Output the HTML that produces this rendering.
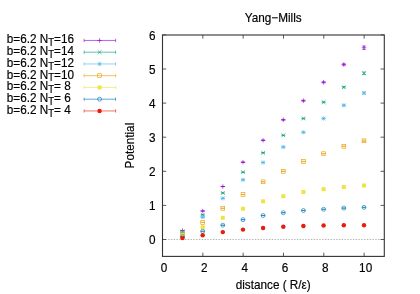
<!DOCTYPE html>
<html><head><meta charset="utf-8"><title>Yang-Mills</title>
<style>html,body{margin:0;padding:0;background:#fff;font-family:"Liberation Sans",sans-serif;}body{width:420px;height:294px;position:relative;overflow:hidden}</style>
</head><body>
<svg width="420" height="294" viewBox="0 0 420 294" style="position:absolute;left:0;top:0"><rect width="420" height="294" fill="#fff"/><path d="M162.5 239.5H384.3" stroke="#a0a0a0" stroke-width="0.8" stroke-dasharray="1.4 1.4" fill="none"/><path d="M162.5 239.50h3.7M384.3 239.50h-3.7M162.5 205.40h3.7M384.3 205.40h-3.7M162.5 171.30h3.7M384.3 171.30h-3.7M162.5 137.20h3.7M384.3 137.20h-3.7M162.5 103.10h3.7M384.3 103.10h-3.7M162.5 69.00h3.7M384.3 69.00h-3.7M162.5 34.90h3.7M384.3 34.90h-3.7M162.50 256.4v-3.7M162.50 35.0v3.7M202.83 256.4v-3.7M202.83 35.0v3.7M243.15 256.4v-3.7M243.15 35.0v3.7M283.48 256.4v-3.7M283.48 35.0v3.7M323.81 256.4v-3.7M323.81 35.0v3.7M364.14 256.4v-3.7M364.14 35.0v3.7" stroke="#333" stroke-width="0.8" fill="none"/><rect x="162.5" y="35.0" width="221.8" height="221.39999999999998" stroke="#333" stroke-width="1.1" fill="none"/><path d="M182.50 230.50V230.70M180.60 230.50H184.40M180.60 230.70H184.40" stroke="#9400d3" stroke-width="0.62" fill="none"/><path d="M180.25 230.60H184.75M182.50 228.35V232.85" stroke="#9400d3" stroke-width="0.62" fill="none"/><path d="M202.70 210.90V211.10M200.80 210.90H204.60M200.80 211.10H204.60" stroke="#9400d3" stroke-width="0.62" fill="none"/><path d="M200.45 211.00H204.95M202.70 208.75V213.25" stroke="#9400d3" stroke-width="0.62" fill="none"/><path d="M222.80 186.35V186.65M220.90 186.35H224.70M220.90 186.65H224.70" stroke="#9400d3" stroke-width="0.62" fill="none"/><path d="M220.55 186.50H225.05M222.80 184.25V188.75" stroke="#9400d3" stroke-width="0.62" fill="none"/><path d="M243.00 162.00V162.40M241.10 162.00H244.90M241.10 162.40H244.90" stroke="#9400d3" stroke-width="0.62" fill="none"/><path d="M240.75 162.20H245.25M243.00 159.95V164.45" stroke="#9400d3" stroke-width="0.62" fill="none"/><path d="M263.10 140.00V140.60M261.20 140.00H265.00M261.20 140.60H265.00" stroke="#9400d3" stroke-width="0.62" fill="none"/><path d="M260.85 140.30H265.35M263.10 138.05V142.55" stroke="#9400d3" stroke-width="0.62" fill="none"/><path d="M283.30 119.40V120.20M281.40 119.40H285.20M281.40 120.20H285.20" stroke="#9400d3" stroke-width="0.62" fill="none"/><path d="M281.05 119.80H285.55M283.30 117.55V122.05" stroke="#9400d3" stroke-width="0.62" fill="none"/><path d="M303.40 100.20V101.20M301.50 100.20H305.30M301.50 101.20H305.30" stroke="#9400d3" stroke-width="0.62" fill="none"/><path d="M301.15 100.70H305.65M303.40 98.45V102.95" stroke="#9400d3" stroke-width="0.62" fill="none"/><path d="M323.60 81.70V82.90M321.70 81.70H325.50M321.70 82.90H325.50" stroke="#9400d3" stroke-width="0.62" fill="none"/><path d="M321.35 82.30H325.85M323.60 80.05V84.55" stroke="#9400d3" stroke-width="0.62" fill="none"/><path d="M343.80 63.70V65.30M341.90 63.70H345.70M341.90 65.30H345.70" stroke="#9400d3" stroke-width="0.62" fill="none"/><path d="M341.55 64.50H346.05M343.80 62.25V66.75" stroke="#9400d3" stroke-width="0.62" fill="none"/><path d="M364.00 46.00V49.40M362.10 46.00H365.90M362.10 49.40H365.90" stroke="#9400d3" stroke-width="0.62" fill="none"/><path d="M361.75 47.70H366.25M364.00 45.45V49.95" stroke="#9400d3" stroke-width="0.62" fill="none"/><path d="M182.50 231.42V231.58M180.60 231.42H184.40M180.60 231.58H184.40" stroke="#009e73" stroke-width="0.62" fill="none"/><path d="M180.60 229.60L184.40 233.40M180.60 233.40L184.40 229.60" stroke="#009e73" stroke-width="0.62" fill="none"/><path d="M202.70 214.72V214.88M200.80 214.72H204.60M200.80 214.88H204.60" stroke="#009e73" stroke-width="0.62" fill="none"/><path d="M200.80 212.90L204.60 216.70M200.80 216.70L204.60 212.90" stroke="#009e73" stroke-width="0.62" fill="none"/><path d="M222.80 192.89V193.11M220.90 192.89H224.70M220.90 193.11H224.70" stroke="#009e73" stroke-width="0.62" fill="none"/><path d="M220.90 191.10L224.70 194.90M220.90 194.90L224.70 191.10" stroke="#009e73" stroke-width="0.62" fill="none"/><path d="M243.00 172.05V172.35M241.10 172.05H244.90M241.10 172.35H244.90" stroke="#009e73" stroke-width="0.62" fill="none"/><path d="M241.10 170.30L244.90 174.10M241.10 174.10L244.90 170.30" stroke="#009e73" stroke-width="0.62" fill="none"/><path d="M263.10 152.57V153.03M261.20 152.57H265.00M261.20 153.03H265.00" stroke="#009e73" stroke-width="0.62" fill="none"/><path d="M261.20 150.90L265.00 154.70M261.20 154.70L265.00 150.90" stroke="#009e73" stroke-width="0.62" fill="none"/><path d="M283.30 134.99V135.61M281.40 134.99H285.20M281.40 135.61H285.20" stroke="#009e73" stroke-width="0.62" fill="none"/><path d="M281.40 133.40L285.20 137.20M281.40 137.20L285.20 133.40" stroke="#009e73" stroke-width="0.62" fill="none"/><path d="M303.40 118.12V118.88M301.50 118.12H305.30M301.50 118.88H305.30" stroke="#009e73" stroke-width="0.62" fill="none"/><path d="M301.50 116.60L305.30 120.40M301.50 120.40L305.30 116.60" stroke="#009e73" stroke-width="0.62" fill="none"/><path d="M323.60 101.74V102.66M321.70 101.74H325.50M321.70 102.66H325.50" stroke="#009e73" stroke-width="0.62" fill="none"/><path d="M321.70 100.30L325.50 104.10M321.70 104.10L325.50 100.30" stroke="#009e73" stroke-width="0.62" fill="none"/><path d="M343.80 86.59V87.81M341.90 86.59H345.70M341.90 87.81H345.70" stroke="#009e73" stroke-width="0.62" fill="none"/><path d="M341.90 85.30L345.70 89.10M341.90 89.10L345.70 85.30" stroke="#009e73" stroke-width="0.62" fill="none"/><path d="M364.00 72.00V74.60M362.10 72.00H365.90M362.10 74.60H365.90" stroke="#009e73" stroke-width="0.62" fill="none"/><path d="M362.10 71.40L365.90 75.20M362.10 75.20L365.90 71.40" stroke="#009e73" stroke-width="0.62" fill="none"/><path d="M182.50 232.44V232.56M180.60 232.44H184.40M180.60 232.56H184.40" stroke="#56b4e9" stroke-width="0.62" fill="none"/><path d="M180.60 230.60L184.40 234.40M180.60 234.40L184.40 230.60M180.40 232.50H184.60M182.50 230.40V234.60" stroke="#56b4e9" stroke-width="0.62" fill="none"/><path d="M202.70 217.14V217.26M200.80 217.14H204.60M200.80 217.26H204.60" stroke="#56b4e9" stroke-width="0.62" fill="none"/><path d="M200.80 215.30L204.60 219.10M200.80 219.10L204.60 215.30M200.60 217.20H204.80M202.70 215.10V219.30" stroke="#56b4e9" stroke-width="0.62" fill="none"/><path d="M222.80 198.22V198.38M220.90 198.22H224.70M220.90 198.38H224.70" stroke="#56b4e9" stroke-width="0.62" fill="none"/><path d="M220.90 196.40L224.70 200.20M220.90 200.20L224.70 196.40M220.70 198.30H224.90M222.80 196.20V200.40" stroke="#56b4e9" stroke-width="0.62" fill="none"/><path d="M243.00 179.69V179.91M241.10 179.69H244.90M241.10 179.91H244.90" stroke="#56b4e9" stroke-width="0.62" fill="none"/><path d="M241.10 177.90L244.90 181.70M241.10 181.70L244.90 177.90M240.90 179.80H245.10M243.00 177.70V181.90" stroke="#56b4e9" stroke-width="0.62" fill="none"/><path d="M263.10 162.33V162.67M261.20 162.33H265.00M261.20 162.67H265.00" stroke="#56b4e9" stroke-width="0.62" fill="none"/><path d="M261.20 160.60L265.00 164.40M261.20 164.40L265.00 160.60M261.00 162.50H265.20M263.10 160.40V164.60" stroke="#56b4e9" stroke-width="0.62" fill="none"/><path d="M283.30 146.78V147.22M281.40 146.78H285.20M281.40 147.22H285.20" stroke="#56b4e9" stroke-width="0.62" fill="none"/><path d="M281.40 145.10L285.20 148.90M281.40 148.90L285.20 145.10M281.20 147.00H285.40M283.30 144.90V149.10" stroke="#56b4e9" stroke-width="0.62" fill="none"/><path d="M303.40 132.02V132.58M301.50 132.02H305.30M301.50 132.58H305.30" stroke="#56b4e9" stroke-width="0.62" fill="none"/><path d="M301.50 130.40L305.30 134.20M301.50 134.20L305.30 130.40M301.30 132.30H305.50M303.40 130.20V134.40" stroke="#56b4e9" stroke-width="0.62" fill="none"/><path d="M323.60 118.16V118.84M321.70 118.16H325.50M321.70 118.84H325.50" stroke="#56b4e9" stroke-width="0.62" fill="none"/><path d="M321.70 116.60L325.50 120.40M321.70 120.40L325.50 116.60M321.50 118.50H325.70M323.60 116.40V120.60" stroke="#56b4e9" stroke-width="0.62" fill="none"/><path d="M343.80 104.85V105.75M341.90 104.85H345.70M341.90 105.75H345.70" stroke="#56b4e9" stroke-width="0.62" fill="none"/><path d="M341.90 103.40L345.70 107.20M341.90 107.20L345.70 103.40M341.70 105.30H345.90M343.80 103.20V107.40" stroke="#56b4e9" stroke-width="0.62" fill="none"/><path d="M364.00 92.04V93.96M362.10 92.04H365.90M362.10 93.96H365.90" stroke="#56b4e9" stroke-width="0.62" fill="none"/><path d="M362.10 91.10L365.90 94.90M362.10 94.90L365.90 91.10M361.90 93.00H366.10M364.00 90.90V95.10" stroke="#56b4e9" stroke-width="0.62" fill="none"/><path d="M182.50 233.76V233.84M180.60 233.76H184.40M180.60 233.84H184.40" stroke="#e69f00" stroke-width="0.62" fill="none"/><rect x="180.60" y="231.90" width="3.8" height="3.8" stroke="#e69f00" stroke-width="0.62" fill="none"/><path d="M202.70 222.36V222.44M200.80 222.36H204.60M200.80 222.44H204.60" stroke="#e69f00" stroke-width="0.62" fill="none"/><rect x="200.80" y="220.50" width="3.8" height="3.8" stroke="#e69f00" stroke-width="0.62" fill="none"/><path d="M222.80 208.24V208.36M220.90 208.24H224.70M220.90 208.36H224.70" stroke="#e69f00" stroke-width="0.62" fill="none"/><rect x="220.90" y="206.40" width="3.8" height="3.8" stroke="#e69f00" stroke-width="0.62" fill="none"/><path d="M243.00 194.42V194.58M241.10 194.42H244.90M241.10 194.58H244.90" stroke="#e69f00" stroke-width="0.62" fill="none"/><rect x="241.10" y="192.60" width="3.8" height="3.8" stroke="#e69f00" stroke-width="0.62" fill="none"/><path d="M263.10 181.68V181.92M261.20 181.68H265.00M261.20 181.92H265.00" stroke="#e69f00" stroke-width="0.62" fill="none"/><rect x="261.20" y="179.90" width="3.8" height="3.8" stroke="#e69f00" stroke-width="0.62" fill="none"/><path d="M283.30 171.14V171.46M281.40 171.14H285.20M281.40 171.46H285.20" stroke="#e69f00" stroke-width="0.62" fill="none"/><rect x="281.40" y="169.40" width="3.8" height="3.8" stroke="#e69f00" stroke-width="0.62" fill="none"/><path d="M303.40 161.30V161.70M301.50 161.30H305.30M301.50 161.70H305.30" stroke="#e69f00" stroke-width="0.62" fill="none"/><rect x="301.50" y="159.60" width="3.8" height="3.8" stroke="#e69f00" stroke-width="0.62" fill="none"/><path d="M323.60 153.47V153.93M321.70 153.47H325.50M321.70 153.93H325.50" stroke="#e69f00" stroke-width="0.62" fill="none"/><rect x="321.70" y="151.80" width="3.8" height="3.8" stroke="#e69f00" stroke-width="0.62" fill="none"/><path d="M343.80 145.99V146.61M341.90 145.99H345.70M341.90 146.61H345.70" stroke="#e69f00" stroke-width="0.62" fill="none"/><rect x="341.90" y="144.40" width="3.8" height="3.8" stroke="#e69f00" stroke-width="0.62" fill="none"/><path d="M364.00 140.14V141.46M362.10 140.14H365.90M362.10 141.46H365.90" stroke="#e69f00" stroke-width="0.62" fill="none"/><rect x="362.10" y="138.90" width="3.8" height="3.8" stroke="#e69f00" stroke-width="0.62" fill="none"/><path d="M182.50 235.17V235.22M180.60 235.17H184.40M180.60 235.22H184.40" stroke="#f0e442" stroke-width="0.62" fill="none"/><rect x="180.50" y="233.20" width="4.0" height="4.0" fill="#f0e442"/><path d="M202.70 227.17V227.22M200.80 227.17H204.60M200.80 227.22H204.60" stroke="#f0e442" stroke-width="0.62" fill="none"/><rect x="200.70" y="225.20" width="4.0" height="4.0" fill="#f0e442"/><path d="M222.80 217.76V217.84M220.90 217.76H224.70M220.90 217.84H224.70" stroke="#f0e442" stroke-width="0.62" fill="none"/><rect x="220.80" y="215.80" width="4.0" height="4.0" fill="#f0e442"/><path d="M243.00 208.75V208.85M241.10 208.75H244.90M241.10 208.85H244.90" stroke="#f0e442" stroke-width="0.62" fill="none"/><rect x="241.00" y="206.80" width="4.0" height="4.0" fill="#f0e442"/><path d="M263.10 201.23V201.38M261.20 201.23H265.00M261.20 201.38H265.00" stroke="#f0e442" stroke-width="0.62" fill="none"/><rect x="261.10" y="199.30" width="4.0" height="4.0" fill="#f0e442"/><path d="M283.30 196.10V196.30M281.40 196.10H285.20M281.40 196.30H285.20" stroke="#f0e442" stroke-width="0.62" fill="none"/><rect x="281.30" y="194.20" width="4.0" height="4.0" fill="#f0e442"/><path d="M303.40 191.88V192.12M301.50 191.88H305.30M301.50 192.12H305.30" stroke="#f0e442" stroke-width="0.62" fill="none"/><rect x="301.40" y="190.00" width="4.0" height="4.0" fill="#f0e442"/><path d="M323.60 189.05V189.35M321.70 189.05H325.50M321.70 189.35H325.50" stroke="#f0e442" stroke-width="0.62" fill="none"/><rect x="321.60" y="187.20" width="4.0" height="4.0" fill="#f0e442"/><path d="M343.80 186.80V187.20M341.90 186.80H345.70M341.90 187.20H345.70" stroke="#f0e442" stroke-width="0.62" fill="none"/><rect x="341.80" y="185.00" width="4.0" height="4.0" fill="#f0e442"/><path d="M364.00 185.07V185.93M362.10 185.07H365.90M362.10 185.93H365.90" stroke="#f0e442" stroke-width="0.62" fill="none"/><rect x="362.00" y="183.50" width="4.0" height="4.0" fill="#f0e442"/><path d="M182.50 236.59V236.61M180.60 236.59H184.40M180.60 236.61H184.40" stroke="#0072b2" stroke-width="0.62" fill="none"/><circle cx="182.50" cy="236.60" r="2.0" stroke="#0072b2" stroke-width="0.62" fill="none"/><path d="M202.70 231.29V231.31M200.80 231.29H204.60M200.80 231.31H204.60" stroke="#0072b2" stroke-width="0.62" fill="none"/><circle cx="202.70" cy="231.30" r="2.0" stroke="#0072b2" stroke-width="0.62" fill="none"/><path d="M222.80 225.18V225.22M220.90 225.18H224.70M220.90 225.22H224.70" stroke="#0072b2" stroke-width="0.62" fill="none"/><circle cx="222.80" cy="225.20" r="2.0" stroke="#0072b2" stroke-width="0.62" fill="none"/><path d="M243.00 219.67V219.73M241.10 219.67H244.90M241.10 219.73H244.90" stroke="#0072b2" stroke-width="0.62" fill="none"/><circle cx="243.00" cy="219.70" r="2.0" stroke="#0072b2" stroke-width="0.62" fill="none"/><path d="M263.10 215.46V215.54M261.20 215.46H265.00M261.20 215.54H265.00" stroke="#0072b2" stroke-width="0.62" fill="none"/><circle cx="263.10" cy="215.50" r="2.0" stroke="#0072b2" stroke-width="0.62" fill="none"/><path d="M283.30 212.64V212.76M281.40 212.64H285.20M281.40 212.76H285.20" stroke="#0072b2" stroke-width="0.62" fill="none"/><circle cx="283.30" cy="212.70" r="2.0" stroke="#0072b2" stroke-width="0.62" fill="none"/><path d="M303.40 210.43V210.57M301.50 210.43H305.30M301.50 210.57H305.30" stroke="#0072b2" stroke-width="0.62" fill="none"/><circle cx="303.40" cy="210.50" r="2.0" stroke="#0072b2" stroke-width="0.62" fill="none"/><path d="M323.60 209.22V209.38M321.70 209.22H325.50M321.70 209.38H325.50" stroke="#0072b2" stroke-width="0.62" fill="none"/><circle cx="323.60" cy="209.30" r="2.0" stroke="#0072b2" stroke-width="0.62" fill="none"/><path d="M343.80 207.99V208.21M341.90 207.99H345.70M341.90 208.21H345.70" stroke="#0072b2" stroke-width="0.62" fill="none"/><circle cx="343.80" cy="208.10" r="2.0" stroke="#0072b2" stroke-width="0.62" fill="none"/><path d="M364.00 207.16V207.64M362.10 207.16H365.90M362.10 207.64H365.90" stroke="#0072b2" stroke-width="0.62" fill="none"/><circle cx="364.00" cy="207.40" r="2.0" stroke="#0072b2" stroke-width="0.62" fill="none"/><path d="M182.50 238.09V238.11M180.60 238.09H184.40M180.60 238.11H184.40" stroke="#e51e10" stroke-width="0.62" fill="none"/><circle cx="182.50" cy="238.10" r="2.2" fill="#e51e10"/><path d="M202.70 235.19V235.21M200.80 235.19H204.60M200.80 235.21H204.60" stroke="#e51e10" stroke-width="0.62" fill="none"/><circle cx="202.70" cy="235.20" r="2.2" fill="#e51e10"/><path d="M222.80 232.09V232.11M220.90 232.09H224.70M220.90 232.11H224.70" stroke="#e51e10" stroke-width="0.62" fill="none"/><circle cx="222.80" cy="232.10" r="2.2" fill="#e51e10"/><path d="M243.00 229.59V229.61M241.10 229.59H244.90M241.10 229.61H244.90" stroke="#e51e10" stroke-width="0.62" fill="none"/><circle cx="243.00" cy="229.60" r="2.2" fill="#e51e10"/><path d="M263.10 227.98V228.02M261.20 227.98H265.00M261.20 228.02H265.00" stroke="#e51e10" stroke-width="0.62" fill="none"/><circle cx="263.10" cy="228.00" r="2.2" fill="#e51e10"/><path d="M283.30 226.67V226.72M281.40 226.67H285.20M281.40 226.72H285.20" stroke="#e51e10" stroke-width="0.62" fill="none"/><circle cx="283.30" cy="226.70" r="2.2" fill="#e51e10"/><path d="M303.40 225.97V226.03M301.50 225.97H305.30M301.50 226.03H305.30" stroke="#e51e10" stroke-width="0.62" fill="none"/><circle cx="303.40" cy="226.00" r="2.2" fill="#e51e10"/><path d="M323.60 225.46V225.54M321.70 225.46H325.50M321.70 225.54H325.50" stroke="#e51e10" stroke-width="0.62" fill="none"/><circle cx="323.60" cy="225.50" r="2.2" fill="#e51e10"/><path d="M343.80 225.25V225.35M341.90 225.25H345.70M341.90 225.35H345.70" stroke="#e51e10" stroke-width="0.62" fill="none"/><circle cx="343.80" cy="225.30" r="2.2" fill="#e51e10"/><path d="M364.00 225.09V225.31M362.10 225.09H365.90M362.10 225.31H365.90" stroke="#e51e10" stroke-width="0.62" fill="none"/><circle cx="364.00" cy="225.20" r="2.2" fill="#e51e10"/><path d="M84.1 40.45H115.6M84.1 38.85v3.2M115.6 38.85v3.2" stroke="#9400d3" stroke-width="0.62" fill="none"/><path d="M97.35 40.45H101.85M99.60 38.20V42.70" stroke="#9400d3" stroke-width="0.62" fill="none"/><path d="M84.1 52.20H115.6M84.1 50.60v3.2M115.6 50.60v3.2" stroke="#009e73" stroke-width="0.62" fill="none"/><path d="M97.70 50.30L101.50 54.10M97.70 54.10L101.50 50.30" stroke="#009e73" stroke-width="0.62" fill="none"/><path d="M84.1 63.95H115.6M84.1 62.35v3.2M115.6 62.35v3.2" stroke="#56b4e9" stroke-width="0.62" fill="none"/><path d="M97.70 62.05L101.50 65.85M97.70 65.85L101.50 62.05M97.50 63.95H101.70M99.60 61.85V66.05" stroke="#56b4e9" stroke-width="0.62" fill="none"/><path d="M84.1 75.70H115.6M84.1 74.10v3.2M115.6 74.10v3.2" stroke="#e69f00" stroke-width="0.62" fill="none"/><rect x="97.70" y="73.80" width="3.8" height="3.8" stroke="#e69f00" stroke-width="0.62" fill="none"/><path d="M84.1 87.45H115.6M84.1 85.85v3.2M115.6 85.85v3.2" stroke="#f0e442" stroke-width="0.62" fill="none"/><rect x="97.60" y="85.45" width="4.0" height="4.0" fill="#f0e442"/><path d="M84.1 99.20H115.6M84.1 97.60v3.2M115.6 97.60v3.2" stroke="#0072b2" stroke-width="0.62" fill="none"/><circle cx="99.60" cy="99.20" r="2.0" stroke="#0072b2" stroke-width="0.62" fill="none"/><path d="M84.1 110.95H115.6M84.1 109.35v3.2M115.6 109.35v3.2" stroke="#e51e10" stroke-width="0.62" fill="none"/><circle cx="99.60" cy="110.95" r="2.2" fill="#e51e10"/><g font-family="Liberation Sans, sans-serif" font-size="11.75" fill="#000" stroke="#000" stroke-width="0.18" style="opacity:0.999"><text transform="translate(6.8,43.45) scale(1,1.05)" text-anchor="start" xml:space="preserve">b=6.2 N<tspan font-size="9.52" dy="2.5">T</tspan><tspan dy="-2.5">=16</tspan></text><text transform="translate(6.8,55.20) scale(1,1.05)" text-anchor="start" xml:space="preserve">b=6.2 N<tspan font-size="9.52" dy="2.5">T</tspan><tspan dy="-2.5">=14</tspan></text><text transform="translate(6.8,66.95) scale(1,1.05)" text-anchor="start" xml:space="preserve">b=6.2 N<tspan font-size="9.52" dy="2.5">T</tspan><tspan dy="-2.5">=12</tspan></text><text transform="translate(6.8,78.70) scale(1,1.05)" text-anchor="start" xml:space="preserve">b=6.2 N<tspan font-size="9.52" dy="2.5">T</tspan><tspan dy="-2.5">=10</tspan></text><text transform="translate(6.8,90.45) scale(1,1.05)" text-anchor="start" xml:space="preserve">b=6.2 N<tspan font-size="9.52" dy="2.5">T</tspan><tspan dy="-2.5">= 8</tspan></text><text transform="translate(6.8,102.20) scale(1,1.05)" text-anchor="start" xml:space="preserve">b=6.2 N<tspan font-size="9.52" dy="2.5">T</tspan><tspan dy="-2.5">= 6</tspan></text><text transform="translate(6.8,113.95) scale(1,1.05)" text-anchor="start" xml:space="preserve">b=6.2 N<tspan font-size="9.52" dy="2.5">T</tspan><tspan dy="-2.5">= 4</tspan></text><text transform="translate(155.6,244.30) scale(1,1.05)" text-anchor="end" >0</text><text transform="translate(155.6,210.20) scale(1,1.05)" text-anchor="end" >1</text><text transform="translate(155.6,176.10) scale(1,1.05)" text-anchor="end" >2</text><text transform="translate(155.6,142.00) scale(1,1.05)" text-anchor="end" >3</text><text transform="translate(155.6,107.90) scale(1,1.05)" text-anchor="end" >4</text><text transform="translate(155.6,73.80) scale(1,1.05)" text-anchor="end" >5</text><text transform="translate(155.6,39.70) scale(1,1.05)" text-anchor="end" >6</text><text transform="translate(164.00,272.3) scale(1,1.05)" text-anchor="middle" >0</text><text transform="translate(204.33,272.3) scale(1,1.05)" text-anchor="middle" >2</text><text transform="translate(244.65,272.3) scale(1,1.05)" text-anchor="middle" >4</text><text transform="translate(284.98,272.3) scale(1,1.05)" text-anchor="middle" >6</text><text transform="translate(325.31,272.3) scale(1,1.05)" text-anchor="middle" >8</text><text transform="translate(365.64,272.3) scale(1,1.05)" text-anchor="middle" >10</text><text transform="translate(273.2,21.7) scale(1,1.05)" text-anchor="middle" >Yang−Mills</text><text transform="translate(273.2,289.4) scale(1,1.05)" text-anchor="middle" xml:space="preserve">distance ( R/ε)</text><text transform="translate(134,145.6) rotate(-90) scale(1,1.05)" text-anchor="middle">Potential</text></g></svg>
</body></html>
